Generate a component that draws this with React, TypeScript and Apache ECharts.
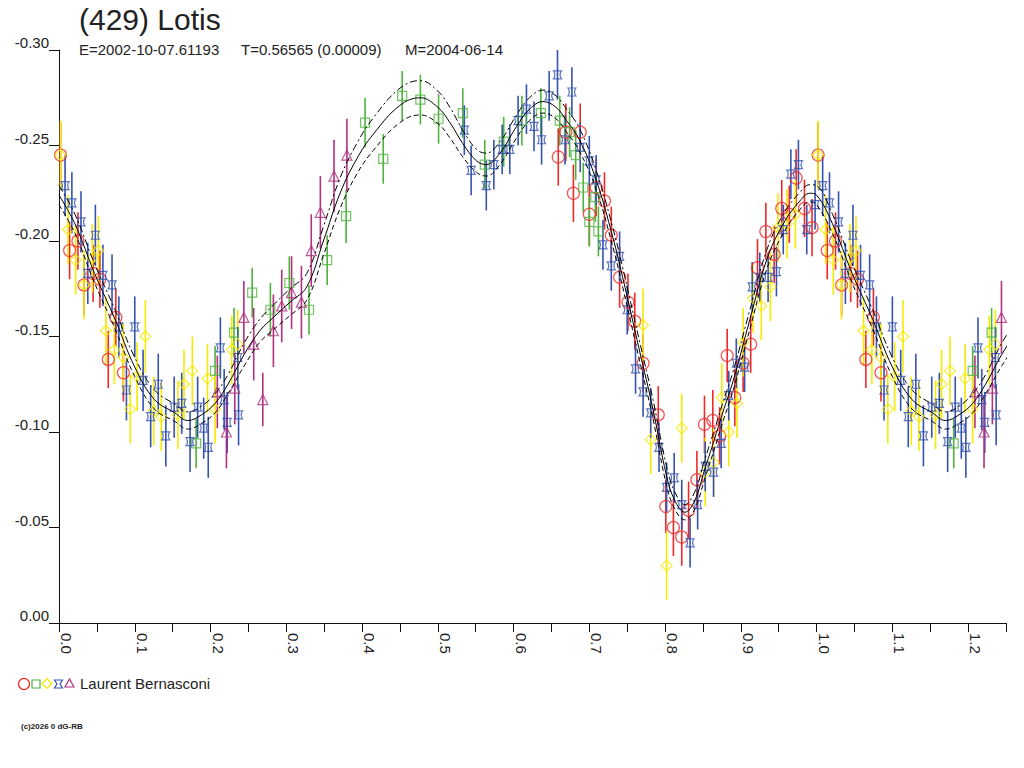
import React, { useEffect, useRef } from "react";
import * as echarts from "echarts";

// ---- data: [phase, magnitude, error] ----
const RED: number[][] = [
  [0.002, -0.245, 0.017], [0.014, -0.195, 0.015], [0.025, -0.2, 0.015], [0.033, -0.177, 0.016],
  [0.045, -0.183, 0.015], [0.054, -0.18, 0.015], [0.065, -0.138, 0.015], [0.075, -0.16, 0.015],
  [0.085, -0.131, 0.015],
  [0.659, -0.244, 0.015], [0.669, -0.257, 0.015], [0.679, -0.225, 0.015], [0.688, -0.257, 0.015],
  [0.7, -0.214, 0.016], [0.709, -0.228, 0.015], [0.72, -0.221, 0.015], [0.729, -0.203, 0.015],
  [0.74, -0.181, 0.016], [0.751, -0.168, 0.015], [0.76, -0.158, 0.015], [0.771, -0.136, 0.015],
  [0.791, -0.109, 0.015], [0.801, -0.061, 0.014], [0.811, -0.05, 0.015], [0.822, -0.045, 0.015],
  [0.831, -0.059, 0.015], [0.842, -0.075, 0.015], [0.852, -0.104, 0.015], [0.863, -0.106, 0.016],
  [0.872, -0.098, 0.015], [0.882, -0.14, 0.014], [0.892, -0.118, 0.015], [0.903, -0.136, 0.015],
  [0.913, -0.146, 0.015], [0.922, -0.186, 0.015], [0.933, -0.205, 0.015], [0.944, -0.193, 0.015],
  [0.954, -0.217, 0.015], [0.964, -0.214, 0.015], [0.973, -0.233, 0.015], [0.984, -0.217, 0.015],
  [0.994, -0.207, 0.015],
];

const GREEN: number[][] = [
  [0.181, -0.094, 0.013], [0.206, -0.132, 0.013], [0.231, -0.152, 0.013], [0.255, -0.173, 0.013],
  [0.279, -0.164, 0.014], [0.304, -0.178, 0.014], [0.33, -0.164, 0.013], [0.354, -0.19, 0.013],
  [0.379, -0.213, 0.014], [0.404, -0.262, 0.013], [0.428, -0.243, 0.013], [0.453, -0.276, 0.013],
  [0.477, -0.274, 0.013], [0.501, -0.264, 0.013], [0.533, -0.267, 0.013], [0.562, -0.24, 0.013],
  [0.587, -0.252, 0.013], [0.611, -0.263, 0.013], [0.636, -0.267, 0.013], [0.661, -0.263, 0.013],
  [0.674, -0.257, 0.013], [0.682, -0.245, 0.013], [0.692, -0.228, 0.013], [0.7, -0.21, 0.013],
  [0.708, -0.223, 0.013], [0.712, -0.205, 0.013],
];

const YELLOW: number[][] = [
  [0.002, -0.245, 0.018], [0.012, -0.206, 0.018], [0.022, -0.19, 0.018], [0.033, -0.177, 0.018],
  [0.044, -0.191, 0.018], [0.052, -0.195, 0.018], [0.062, -0.153, 0.018], [0.073, -0.143, 0.018],
  [0.085, -0.139, 0.018], [0.094, -0.112, 0.018], [0.103, -0.129, 0.018], [0.114, -0.15, 0.019],
  [0.125, -0.111, 0.018], [0.135, -0.108, 0.018], [0.157, -0.109, 0.018], [0.165, -0.125, 0.018],
  [0.176, -0.132, 0.018], [0.196, -0.128, 0.018], [0.206, -0.112, 0.018], [0.228, -0.143, 0.018],
  [0.236, -0.146, 0.018],
  [0.771, -0.156, 0.019], [0.781, -0.096, 0.018], [0.802, -0.03, 0.018], [0.822, -0.102, 0.018],
  [0.853, -0.079, 0.018], [0.864, -0.084, 0.018], [0.875, -0.118, 0.018], [0.884, -0.1, 0.018],
  [0.895, -0.115, 0.018], [0.903, -0.147, 0.018], [0.916, -0.17, 0.018], [0.927, -0.166, 0.018],
  [0.939, -0.176, 0.018], [0.949, -0.207, 0.018], [0.961, -0.209, 0.018], [0.972, -0.214, 0.018],
];

const BLUE: number[][] = [
  [0.008, -0.229, 0.016], [0.017, -0.22, 0.016], [0.029, -0.21, 0.016], [0.038, -0.183, 0.016],
  [0.048, -0.203, 0.016], [0.058, -0.182, 0.016], [0.07, -0.177, 0.016], [0.079, -0.155, 0.016],
  [0.089, -0.122, 0.016], [0.1, -0.155, 0.016], [0.111, -0.127, 0.016], [0.121, -0.108, 0.016],
  [0.131, -0.125, 0.016], [0.141, -0.098, 0.016], [0.152, -0.113, 0.016], [0.162, -0.115, 0.016],
  [0.173, -0.095, 0.016], [0.183, -0.113, 0.016], [0.191, -0.102, 0.016], [0.197, -0.092, 0.016],
  [0.213, -0.144, 0.016], [0.218, -0.117, 0.016], [0.222, -0.105, 0.016], [0.236, -0.139, 0.016],
  [0.237, -0.109, 0.016],
  [0.535, -0.258, 0.013], [0.544, -0.237, 0.013], [0.564, -0.229, 0.013], [0.574, -0.24, 0.013],
  [0.585, -0.248, 0.013], [0.595, -0.248, 0.013], [0.606, -0.263, 0.013], [0.617, -0.269, 0.013],
  [0.627, -0.26, 0.013], [0.637, -0.253, 0.013], [0.647, -0.276, 0.013], [0.658, -0.287, 0.013],
  [0.668, -0.253, 0.013], [0.677, -0.278, 0.013], [0.688, -0.249, 0.013], [0.7, -0.242, 0.013],
  [0.709, -0.232, 0.013], [0.718, -0.198, 0.013], [0.729, -0.187, 0.013], [0.74, -0.192, 0.013],
  [0.75, -0.164, 0.013], [0.761, -0.133, 0.013], [0.771, -0.121, 0.013], [0.781, -0.11, 0.013],
  [0.792, -0.092, 0.013], [0.802, -0.071, 0.013], [0.812, -0.076, 0.013], [0.822, -0.062, 0.013],
  [0.833, -0.042, 0.013], [0.843, -0.062, 0.013], [0.853, -0.082, 0.013], [0.864, -0.079, 0.013],
  [0.874, -0.094, 0.013], [0.884, -0.119, 0.013], [0.894, -0.136, 0.013], [0.905, -0.134, 0.013],
  [0.915, -0.176, 0.013], [0.925, -0.181, 0.013], [0.936, -0.181, 0.013], [0.947, -0.184, 0.013],
  [0.956, -0.206, 0.013], [0.966, -0.235, 0.013], [0.976, -0.24, 0.013], [0.987, -0.206, 0.013],
  [0.998, -0.219, 0.013],
];

const PURPLE: number[][] = [
  [0.209, -0.121, 0.019], [0.221, -0.1, 0.019], [0.232, -0.123, 0.019], [0.244, -0.16, 0.019],
  [0.257, -0.146, 0.019], [0.269, -0.117, 0.014], [0.283, -0.153, 0.019], [0.294, -0.166, 0.019],
  [0.307, -0.173, 0.019], [0.32, -0.168, 0.019], [0.333, -0.195, 0.019], [0.345, -0.215, 0.019],
  [0.363, -0.234, 0.019], [0.38, -0.245, 0.019],
];

// fitted light curve (phase, magnitude) and half-width of its uncertainty band
const FIT_PHASE = [
  0.0, 0.021, 0.047, 0.074, 0.1, 0.126, 0.153, 0.17, 0.188, 0.206, 0.223, 0.245, 0.265, 0.283,
  0.305, 0.327, 0.349, 0.371, 0.393, 0.415, 0.45, 0.477, 0.5, 0.516, 0.533, 0.551, 0.564, 0.582,
  0.604, 0.621, 0.639, 0.656, 0.67, 0.687, 0.709, 0.731, 0.744, 0.766, 0.784, 0.802, 0.813, 0.826,
  0.839, 0.852, 0.865, 0.876, 0.89, 0.912, 0.934, 0.956, 0.978, 0.991,
];
const FIT_MAG = [
  -0.224, -0.209, -0.183, -0.159, -0.134, -0.117, -0.11, -0.106, -0.109, -0.115, -0.125, -0.141,
  -0.153, -0.16, -0.168, -0.176, -0.2, -0.225, -0.243, -0.256, -0.271, -0.275, -0.27, -0.262,
  -0.251, -0.242, -0.24, -0.246, -0.26, -0.269, -0.273, -0.27, -0.263, -0.253, -0.232, -0.202,
  -0.181, -0.143, -0.112, -0.077, -0.064, -0.058, -0.064, -0.08, -0.096, -0.11, -0.127, -0.159,
  -0.19, -0.209, -0.221, -0.225,
];
const FIT_BAND = [
  0.005, 0.005, 0.005, 0.005, 0.005, 0.005, 0.0045, 0.0045, 0.0045, 0.005, 0.005, 0.006, 0.006,
  0.0065, 0.007, 0.007, 0.0075, 0.008, 0.008, 0.0085, 0.009, 0.009, 0.0085, 0.008, 0.007, 0.006,
  0.006, 0.006, 0.006, 0.006, 0.006, 0.006, 0.006, 0.006, 0.005, 0.005, 0.005, 0.005, 0.005, 0.005,
  0.0045, 0.004, 0.0045, 0.005, 0.005, 0.005, 0.005, 0.005, 0.005, 0.005, 0.0045, 0.0045,
];

const X_MAX = 1.25;
const Y_TICKS_MIN = -0.3;

const TITLE = "(429) Lotis";
const SUB_E = "E=2002-10-07.61193";
const SUB_T = "T=0.56565 (0.00009)";
const SUB_M = "M=2004-06-14";
const OBSERVER = "Laurent Bernasconi";
const COPYRIGHT = "(c)2026 0 dG-RB";

const C_RED = "#f02828";
const C_GREEN = "#4fb43c";
const C_YELLOW = "#f5ea00";
const C_BLUE = "#3552b0";
const C_PURPLE = "#b2307f";

const BLUE_SYMBOL = "path://M0,0 L10,0 Q6.5,5 10,10 L0,10 Q3.5,5 0,0 Z";

function wrap(arr: number[][]): number[][] {
  return arr.concat(arr.filter((p) => p[0] <= X_MAX - 1 + 0.001).map((p) => [p[0] + 1, p[1], p[2]]));
}

function curve(offsetSign: number): number[][] {
  const pts: number[][] = FIT_PHASE.map((ph, i) => [ph, FIT_MAG[i] + offsetSign * FIT_BAND[i]]);
  const extra = pts.filter((p) => p[0] <= 0.27).map((p) => [p[0] + 1, p[1]]);
  return pts.concat(extra);
}

export default function App() {
  const ref = useRef<HTMLDivElement>(null);
  useEffect(() => {
    if (!ref.current) return;
    const chart = echarts.init(ref.current, undefined, { renderer: "svg" });
    const font = "'Liberation Sans', Arial, sans-serif";

    const groups = [
      { name: "red", data: wrap(RED), color: C_RED, symbol: "circle", size: 12 },
      { name: "green", data: wrap(GREEN), color: C_GREEN, symbol: "rect", size: 9 },
      { name: "yellow", data: wrap(YELLOW), color: C_YELLOW, symbol: "diamond", size: 11 },
      { name: "blue", data: wrap(BLUE), color: C_BLUE, symbol: BLUE_SYMBOL, size: 8 },
      { name: "purple", data: wrap(PURPLE), color: C_PURPLE, symbol: "triangle", size: 10 },
    ];

    const errSeries = groups.map((g) => ({
      type: "custom",
      name: g.name + "-err",
      data: g.data,
      clip: true,
      z: 2,
      renderItem: (params: any, api: any) => {
        const x = api.value(0);
        const y = api.value(1);
        const e = api.value(2);
        const p1 = api.coord([x, y - e]);
        const p2 = api.coord([x, y + e]);
        return {
          type: "line",
          shape: { x1: p1[0], y1: p1[1], x2: p2[0], y2: p2[1] },
          style: { stroke: g.color, lineWidth: 1.6 },
        };
      },
    }));

    const ptSeries = groups.map((g) => ({
      type: "scatter",
      name: g.name,
      data: g.data.map((p) => [p[0], p[1]]),
      symbol: g.symbol,
      symbolSize: g.size,
      z: 3,
      itemStyle: { color: "transparent", borderColor: g.color, borderWidth: 1.2 },
    }));

    const lineBase = { type: "line", showSymbol: false, symbol: "none", smooth: 0.4, z: 4, silent: true };

    const option: any = {
      animation: false,
      backgroundColor: "#ffffff",
      grid: { left: 59, right: 18, top: 50, bottom: 145, containLabel: false },
      xAxis: {
        type: "value",
        min: 0,
        max: X_MAX,
        interval: 0.05,
        axisLine: { show: true, onZero: false, lineStyle: { color: "#111", width: 1 } },
        axisTick: { show: true, length: 9, lineStyle: { color: "#111" } },
        splitLine: { show: false },
        axisLabel: {
          rotate: -90,
          margin: 10,
          verticalAlign: "bottom",
          fontSize: 15,
          fontFamily: font,
          color: "#222",
          formatter: (v: number) => (Math.round(v * 100) % 10 === 0 ? v.toFixed(1) : ""),
        },
      },
      yAxis: {
        type: "value",
        inverse: true,
        min: Y_TICKS_MIN,
        max: 0,
        interval: 0.05,
        axisLine: { show: true, onZero: false, lineStyle: { color: "#111", width: 1 } },
        axisTick: { show: true, length: 10, lineStyle: { color: "#111" } },
        splitLine: { show: false },
        axisLabel: {
          margin: 10,
          verticalAlign: "bottom",
          fontSize: 15,
          fontFamily: font,
          color: "#222",
          formatter: (v: number) => (Math.abs(v) < 1e-9 ? "0.00" : v.toFixed(2)),
        },
      },
      series: [
        ...errSeries,
        ...ptSeries,
        { ...lineBase, name: "fit", data: curve(0), lineStyle: { color: "#000", width: 1 } },
        { ...lineBase, name: "fit-hi", data: curve(-1), lineStyle: { color: "#000", width: 1, type: [7, 3, 2, 3] } },
        { ...lineBase, name: "fit-lo", data: curve(1), lineStyle: { color: "#000", width: 1, type: [5, 3] } },
      ],
      graphic: [
        { type: "text", left: 79, top: 4, style: { text: TITLE, font: `30px ${font}`, fill: "#222" } },
        { type: "text", x: 79, y: 49, style: { text: SUB_E, font: `15px ${font}`, fill: "#222", verticalAlign: "middle" } },
        { type: "text", x: 241, y: 49, style: { text: SUB_T, font: `15px ${font}`, fill: "#222", verticalAlign: "middle" } },
        { type: "text", x: 405, y: 49, style: { text: SUB_M, font: `15px ${font}`, fill: "#222", verticalAlign: "middle" } },
        // legend symbols
        { type: "circle", shape: { cx: 24, cy: 684, r: 5.5 }, style: { fill: "none", stroke: C_RED, lineWidth: 1.2 } },
        { type: "rect", shape: { x: 32, y: 680, width: 8, height: 8 }, style: { fill: "none", stroke: C_GREEN, lineWidth: 1.2 } },
        { type: "polygon", shape: { points: [[47, 678.5], [52, 683.5], [47, 688.5], [42, 683.5]] }, style: { fill: "none", stroke: C_YELLOW, lineWidth: 1.2 } },
        { type: "polygon", shape: { points: [[54.5, 680], [62.5, 680], [60, 684], [62.5, 688], [54.5, 688], [57, 684]] }, style: { fill: "none", stroke: C_BLUE, lineWidth: 1.2 } },
        { type: "polygon", shape: { points: [[69.5, 679], [74, 687], [65, 687]] }, style: { fill: "none", stroke: C_PURPLE, lineWidth: 1.2 } },
        { type: "text", x: 80, y: 683, style: { text: OBSERVER, font: `15px ${font}`, fill: "#222", verticalAlign: "middle" } },
        { type: "text", x: 21, y: 726, style: { text: COPYRIGHT, font: `bold 8px ${font}`, fill: "#222", verticalAlign: "middle" } },
      ],
    };
    chart.setOption(option);
    return () => chart.dispose();
  }, []);
  return (
    <div
      ref={ref}
      style={{ position: "fixed", left: 0, top: 0, width: 1024, height: 768, background: "#fff" }}
    />
  );
}
